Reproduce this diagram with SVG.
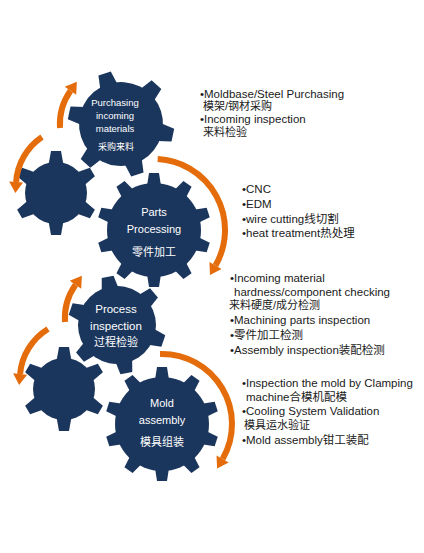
<svg xmlns="http://www.w3.org/2000/svg" xmlns:xlink="http://www.w3.org/1999/xlink" width="424" height="553" viewBox="0 0 424 553">
<style>
.gear{fill:#1b365d}
.arc{fill:none;stroke:#e46c0a;stroke-width:6;marker-end:url(#ah)}
.gt{fill:#ffffff;font-family:"Liberation Sans","Noto Sans CJK SC",sans-serif;text-anchor:middle}
.rt{fill:#1a1a1a;font-family:"Liberation Sans","Noto Sans CJK SC",sans-serif;font-size:11.5px}
.cj{font-size:11px}
</style>
<defs>
<marker id="ah" markerUnits="userSpaceOnUse" markerWidth="14" markerHeight="16" refX="0" refY="0" viewBox="0 -8 12 16" orient="auto">
<path d="M0,-7 L11,0 L0,7 Z" fill="#e46c0a"/>
</marker>
<polygon id="tL" points="-7,-44 7,-44 5,-57 -5,-57"/>
<polygon id="tM" points="-9,-39 9,-39 6.5,-53 -6.5,-53"/>
<polygon id="tP" points="-8.5,-36 8.5,-36 6,-49 -6,-49"/>
<polygon id="tS" points="-7.5,-28 7.5,-28 5,-42 -5,-42"/>
</defs>
<rect width="424" height="553" fill="#ffffff"/>

<g id="gear-small-1" class="gear" transform="translate(56,193)">
<circle r="31"/>
<use xlink:href="#tS"/><use xlink:href="#tS" transform="rotate(60)"/><use xlink:href="#tS" transform="rotate(120)"/><use xlink:href="#tS" transform="rotate(180)"/><use xlink:href="#tS" transform="rotate(240)"/><use xlink:href="#tS" transform="rotate(300)"/>
</g>

<g id="gear-purchasing">
<g class="gear" transform="translate(121,124) rotate(-18)">
<circle r="42"/>
<use xlink:href="#tM"/><use xlink:href="#tM" transform="rotate(60)"/><use xlink:href="#tM" transform="rotate(120)"/><use xlink:href="#tM" transform="rotate(180)"/><use xlink:href="#tM" transform="rotate(240)"/><use xlink:href="#tM" transform="rotate(300)"/>
</g>
<text class="gt" font-size="9.5" x="115" y="106.3">Purchasing</text>
<text class="gt" font-size="9.5" x="115" y="119.3">incoming</text>
<text class="gt" font-size="9.5" x="115" y="132.3">materials</text>
<text class="gt" font-size="9" x="116" y="150">采购来料</text>
</g>

<g id="gear-parts">
<g class="gear" transform="translate(154,230)">
<circle r="47"/>
<use xlink:href="#tL"/><use xlink:href="#tL" transform="rotate(36)"/><use xlink:href="#tL" transform="rotate(72)"/><use xlink:href="#tL" transform="rotate(108)"/><use xlink:href="#tL" transform="rotate(144)"/><use xlink:href="#tL" transform="rotate(180)"/><use xlink:href="#tL" transform="rotate(216)"/><use xlink:href="#tL" transform="rotate(252)"/><use xlink:href="#tL" transform="rotate(288)"/><use xlink:href="#tL" transform="rotate(324)"/>
</g>
<text class="gt" font-size="11" x="154" y="216">Parts</text>
<text class="gt" font-size="11" x="154" y="233">Processing</text>
<text class="gt" font-size="11" x="154" y="256">零件加工</text>
</g>

<g id="gear-small-2" class="gear" transform="translate(64,389)">
<circle r="31"/>
<use xlink:href="#tS"/><use xlink:href="#tS" transform="rotate(60)"/><use xlink:href="#tS" transform="rotate(120)"/><use xlink:href="#tS" transform="rotate(180)"/><use xlink:href="#tS" transform="rotate(240)"/><use xlink:href="#tS" transform="rotate(300)"/>
</g>

<g id="gear-process">
<g class="gear" transform="translate(117,325) rotate(-11)">
<circle r="39"/>
<use xlink:href="#tP"/><use xlink:href="#tP" transform="rotate(60)"/><use xlink:href="#tP" transform="rotate(120)"/><use xlink:href="#tP" transform="rotate(180)"/><use xlink:href="#tP" transform="rotate(240)"/><use xlink:href="#tP" transform="rotate(300)"/>
</g>
<text class="gt" font-size="11.5" x="116" y="313">Process</text>
<text class="gt" font-size="11.5" x="116" y="330">inspection</text>
<text class="gt" font-size="11" x="116" y="346">过程检验</text>
</g>

<g id="gear-mold">
<g class="gear" transform="translate(162,424)">
<circle r="47"/>
<use xlink:href="#tL"/><use xlink:href="#tL" transform="rotate(36)"/><use xlink:href="#tL" transform="rotate(72)"/><use xlink:href="#tL" transform="rotate(108)"/><use xlink:href="#tL" transform="rotate(144)"/><use xlink:href="#tL" transform="rotate(180)"/><use xlink:href="#tL" transform="rotate(216)"/><use xlink:href="#tL" transform="rotate(252)"/><use xlink:href="#tL" transform="rotate(288)"/><use xlink:href="#tL" transform="rotate(324)"/>
</g>
<text class="gt" font-size="11" x="162" y="407">Mold</text>
<text class="gt" font-size="11" x="162" y="424">assembly</text>
<text class="gt" font-size="11" x="162" y="446">模具组装</text>
</g>

<g id="connectors">
<path class="arc" d="M60,128 A58,58 0 0 1 70.5,90.7"/>
<path class="arc" d="M42,137 A59,59 0 0 0 16.1,182"/>
<path class="arc" d="M65,322 A58,58 0 0 1 75.5,284.7"/>
<path class="arc" d="M48,329 A59,59 0 0 0 20.1,374"/>
<path class="arc" d="M157.7,159.1 A71,71 0 0 1 215.5,265.5"/>
<path class="arc" d="M160,354 A70,70 0 0 1 222.6,459"/>
</g>

<g id="notes-purchasing" class="rt">
<text x="200" y="98">•Moldbase/Steel Purchasing</text>
<text class="cj" x="203" y="109.5">模架/钢材采购</text>
<text x="200" y="123.3">•Incoming inspection</text>
<text class="cj" x="203" y="136">来料检验</text>
</g>
<g id="notes-parts" class="rt">
<text x="242" y="193">•CNC</text>
<text x="242" y="208">•EDM</text>
<text x="242" y="222.5">•wire cutting线切割</text>
<text x="242" y="237">•heat treatment热处理</text>
</g>
<g id="notes-process" class="rt">
<text x="230" y="282.3">•Incoming material</text>
<text x="234" y="295.5">hardness/component checking</text>
<text class="cj" x="229" y="309">来料硬度/成分检测</text>
<text x="230" y="324.3">•Machining parts inspection</text>
<text x="230" y="339">•零件加工检测</text>
<text x="230" y="354">•Assembly inspection装配检测</text>
</g>
<g id="notes-mold" class="rt">
<text x="242" y="387.3">•Inspection the mold by Clamping</text>
<text x="246" y="400.5">machine合模机配模</text>
<text x="242" y="415">•Cooling System Validation</text>
<text class="cj" x="244" y="428.5">模具运水验证</text>
<text x="242" y="444">•Mold assembly钳工装配</text>
</g>
</svg>
